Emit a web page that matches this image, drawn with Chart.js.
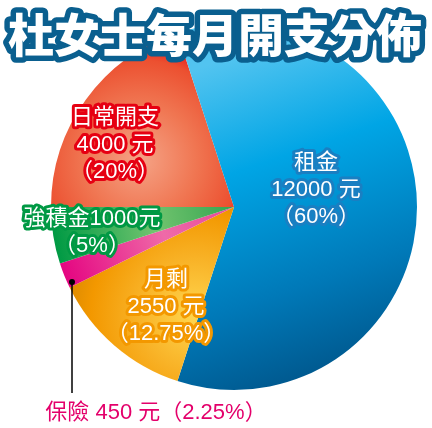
<!DOCTYPE html>
<html>
<head>
<meta charset="utf-8">
<script src="https://cdn.jsdelivr.net/npm/chart.js@4"></script>
<style>
  body { margin: 0; background: #fff; }
  canvas { display: block; }
</style>
</head>
<body>
<canvas id="pieChartSpend" width="432" height="428"></canvas>
<script>
var chartTitle = "杜女士每月開支分佈";
var categories = ["日常開支", "租金", "月剩", "保險", "強積金"];
var amounts = [4000, 12000, 2550, 450, 1000];
var unit = "元";

var total = amounts.reduce(function (a, b) { return a + b; }, 0);
function pct(i) {
  return "（" + +(amounts[i] / total * 100).toFixed(2) + "%）";
}

// label lines for each slice (built from the data above)
var labelLines = [
  [categories[0], amounts[0] + " " + unit, pct(0)],
  [categories[1], amounts[1] + " " + unit, pct(1)],
  [categories[2], amounts[2] + " " + unit, pct(2)],
  [categories[3] + " " + amounts[3] + " " + unit + pct(3)],
  [categories[4] + amounts[4] + unit, pct(4)],
];

// where the labels sit and how they are outlined
var labelStyle = [
  { x: 115, y: 118, stroke: "#e60012", fill: "#fff" },
  { x: 316, y: 163, stroke: "#1a7fc2", fill: "#fff" },
  { x: 166, y: 280, stroke: "#f39800", fill: "#fff" },
  { x: 156, y: 413, stroke: null, fill: "#e4006b" },
  { x: 92, y: 219, stroke: "#009944", fill: "#fff" },
];

function sliceFill(context) {
  var chart = context.chart;
  var area = chart.chartArea;
  var i = context.dataIndex;
  var flat = ["#ea4a2e", "#00a0e0", "#f7a800", "#e6007f", "#3aa84a"];
  if (!area) return flat[i];
  var c = chart.ctx;
  var g;
  if (i === 0) {
    g = c.createRadialGradient(140, 160, 0, 140, 160, 125);
    g.addColorStop(0, "#f5a386");
    g.addColorStop(0.45, "#f07652");
    g.addColorStop(0.8, "#ec5030");
    g.addColorStop(1, "#e60014");
  } else if (i === 1) {
    g = c.createLinearGradient(280, 40, 400, 390);
    g.addColorStop(0, "#52c4f0");
    g.addColorStop(0.3, "#00a5e5");
    g.addColorStop(0.65, "#0079b8");
    g.addColorStop(1, "#004a7c");
  } else if (i === 2) {
    g = c.createRadialGradient(195, 315, 0, 195, 315, 130);
    g.addColorStop(0, "#ffd64f");
    g.addColorStop(0.45, "#f8b125");
    g.addColorStop(0.8, "#f39800");
    g.addColorStop(1, "#dc8a00");
  } else if (i === 3) {
    g = c.createLinearGradient(60, 280, 234, 207);
    g.addColorStop(0, "#e4007f");
    g.addColorStop(0.6, "#ef6aa8");
    g.addColorStop(1, "#e8489a");
  } else {
    g = c.createLinearGradient(55, 240, 234, 207);
    g.addColorStop(0, "#009a44");
    g.addColorStop(0.55, "#72c46f");
    g.addColorStop(1, "#35a550");
  }
  return g;
}

var textPlugin = {
  id: "textPlugin",
  afterDraw: function (chart) {
    var c = chart.ctx;
    c.save();
    c.textAlign = "center";
    c.textBaseline = "middle";
    c.lineJoin = "round";

    // leader line for the small slice
    c.strokeStyle = "#000";
    c.lineWidth = 1.5;
    c.beginPath();
    c.moveTo(72, 282);
    c.lineTo(72, 393);
    c.stroke();
    c.fillStyle = "#000";
    c.beginPath();
    c.arc(72, 282, 3, 0, Math.PI * 2);
    c.fill();

    c.font = "22px 'Liberation Sans', 'Noto Sans CJK TC', sans-serif";
    labelLines.forEach(function (lines, i) {
      var s = labelStyle[i];
      lines.forEach(function (t, k) {
        var y = s.y + k * 27;
        if (s.stroke) {
          c.strokeStyle = s.stroke;
          c.lineWidth = 6;
          c.strokeText(t, s.x, y);
        }
        c.fillStyle = s.fill;
        c.fillText(t, s.x, y);
      });
    });

    // title
    c.font = "900 46px 'Noto Sans CJK TC', sans-serif";
    c.strokeStyle = "#0a5f8f";
    c.lineWidth = 11;
    c.strokeText(chartTitle, 215, 35);
    c.fillStyle = "#fff";
    c.fillText(chartTitle, 215, 35);
    c.restore();
  },
};

new Chart("pieChartSpend", {
  type: "pie",
  data: {
    labels: categories,
    datasets: [
      {
        data: amounts,
        backgroundColor: sliceFill,
        borderWidth: 0,
      },
    ],
  },
  options: {
    responsive: false,
    animation: false,
    rotation: 270,
    layout: { padding: { left: 51, right: 15, top: 24, bottom: 38 } },
    plugins: {
      legend: { display: false },
      title: { display: false },
      tooltip: { enabled: false },
    },
  },
  plugins: [textPlugin],
});
</script>
</body>
</html>
